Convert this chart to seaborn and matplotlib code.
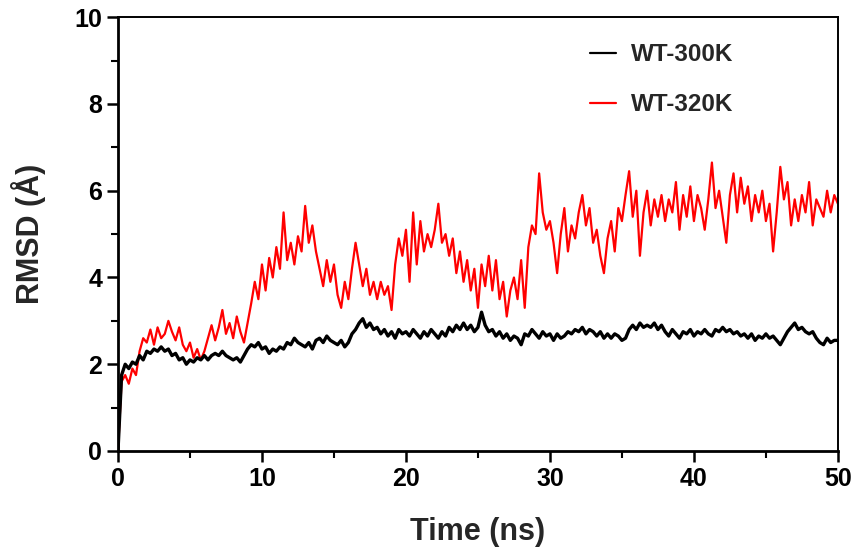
#!/usr/bin/env python3
"""RMSD vs time for WT at 300 K and 320 K."""

import numpy as np
import pandas as pd
import matplotlib
matplotlib.use("Agg")
import matplotlib.pyplot as plt
import seaborn as sns

# time grid, 0.25 ns steps (0 .. 50 ns)
time_ns = np.arange(0, 50.001, 0.25)

# RMSD (A), four samples per ns
rmsd_300k = [
    0.0, 1.75, 2.0, 1.9,    2.05, 2.0, 2.2, 2.1,    2.3, 2.25, 2.35, 2.3,
    2.4, 2.3, 2.35, 2.2,    2.25, 2.1, 2.15, 2.0,   2.1, 2.05, 2.15, 2.1,
    2.2, 2.1, 2.2, 2.25,    2.2, 2.3, 2.2, 2.15,    2.1, 2.15, 2.05, 2.2,
    2.35, 2.45, 2.4, 2.5,   2.35, 2.4, 2.25, 2.35,  2.3, 2.4, 2.35, 2.5,
    2.45, 2.6, 2.5, 2.45,   2.4, 2.5, 2.35, 2.55,   2.6, 2.5, 2.65, 2.55,
    2.5, 2.45, 2.55, 2.4,   2.5, 2.7, 2.8, 2.95,    3.05, 2.85, 2.95, 2.8,
    2.85, 2.7, 2.8, 2.65,   2.75, 2.6, 2.8, 2.7,    2.75, 2.65, 2.8, 2.7,
    2.6, 2.75, 2.65, 2.8,   2.7, 2.6, 2.75, 2.65,   2.85, 2.75, 2.9, 2.8,
    2.95, 2.8, 2.9, 2.75,   2.85, 3.2, 2.9, 2.75,   2.8, 2.65, 2.75, 2.6,
    2.7, 2.55, 2.65, 2.6,   2.45, 2.7, 2.65, 2.8,   2.7, 2.6, 2.75, 2.65,
    2.7, 2.55, 2.7, 2.6,    2.65, 2.75, 2.7, 2.8,   2.75, 2.85, 2.7, 2.8,
    2.75, 2.65, 2.75, 2.6,  2.7, 2.6, 2.7, 2.65,    2.55, 2.6, 2.8, 2.9,
    2.8, 2.95, 2.85, 2.9,   2.85, 2.95, 2.8, 2.9,   2.75, 2.65, 2.8, 2.7,
    2.6, 2.75, 2.7, 2.8,    2.65, 2.75, 2.7, 2.8,   2.7, 2.65, 2.8, 2.75,
    2.85, 2.75, 2.8, 2.7,   2.75, 2.65, 2.7, 2.6,   2.7, 2.55, 2.65, 2.6,
    2.7, 2.6, 2.65, 2.55,   2.45, 2.6, 2.75, 2.85,  2.95, 2.8, 2.85, 2.75,
    2.7, 2.75, 2.6, 2.5,    2.45, 2.6, 2.5, 2.55,
    2.55,
]

rmsd_320k = [
    0.0, 1.6, 1.75, 1.55,   1.9, 1.75, 2.3, 2.6,    2.5, 2.8, 2.45, 2.85,
    2.6, 2.7, 3.0, 2.75,    2.55, 2.85, 2.45, 2.3,  2.5, 2.15, 2.35, 2.1,
    2.3, 2.6, 2.9, 2.55,    2.85, 3.25, 2.7, 2.95,  2.6, 3.1, 2.75, 2.5,
    2.95, 3.4, 3.9, 3.5,    4.3, 3.7, 4.45, 4.0,    4.7, 4.2, 5.5, 4.4,
    4.8, 4.3, 4.95, 4.6,    5.65, 4.8, 5.2, 4.6,    4.2, 3.8, 4.4, 3.9,
    4.3, 3.6, 3.3, 3.9,     3.5, 4.2, 4.8, 4.3,     3.8, 4.2, 3.6, 3.9,
    3.5, 3.9, 3.6, 3.8,     3.25, 4.3, 4.9, 4.5,    5.1, 3.9, 5.5, 4.3,
    5.3, 4.6, 5.0, 4.7,     5.1, 5.7, 4.8, 5.0,     4.5, 4.9, 4.1, 4.6,
    3.9, 4.4, 3.7, 4.2,     3.3, 4.3, 3.8, 4.5,     3.7, 4.4, 3.5, 3.9,
    3.1, 3.7, 4.0, 3.5,     4.4, 3.3, 4.7, 5.2,     5.0, 6.4, 5.5, 5.1,
    5.3, 4.8, 4.1, 5.0,     5.6, 4.6, 5.2, 4.9,     5.5, 5.9, 5.2, 5.6,
    4.8, 5.1, 4.5, 4.1,     4.9, 5.3, 4.6, 5.6,     5.3, 5.9, 6.45, 5.4,
    6.0, 4.5, 5.5, 6.0,     5.2, 5.8, 5.4, 5.9,     5.3, 5.8, 5.5, 6.2,
    5.1, 5.9, 5.4, 6.1,     5.3, 5.9, 5.6, 5.1,     5.8, 6.65, 5.6, 6.0,
    5.4, 4.8, 5.9, 6.4,     5.5, 6.3, 5.7, 6.1,     5.3, 5.9, 5.5, 6.0,
    5.3, 5.7, 4.6, 5.5,     6.55, 5.8, 6.2, 5.2,    5.8, 5.3, 5.9, 5.5,
    6.2, 5.2, 5.8, 5.6,     5.4, 6.0, 5.5, 5.9,
    5.7,
]

labels = ["WT-300K", "WT-320K"]
colors = {"WT-300K": "#000000", "WT-320K": "#ff0000"}

x_ticks = [0, 10, 20, 30, 40, 50]
y_ticks = [0, 2, 4, 6, 8, 10]


def main():
    df = pd.concat([
        pd.DataFrame({"Time (ns)": time_ns, "RMSD": rmsd_300k, "System": labels[0]}),
        pd.DataFrame({"Time (ns)": time_ns, "RMSD": rmsd_320k, "System": labels[1]}),
    ])

    sns.set_theme(style="ticks")
    plt.rcParams["font.family"] = ["Liberation Sans", "DejaVu Sans"]
    plt.rcParams["font.weight"] = "bold"

    fig = plt.figure(figsize=(8.55, 5.55), dpi=100)
    ax = fig.add_axes([0.138, 0.1874, 0.842, 0.7816])

    # red first so the black trace sits on top, legend re-ordered below
    sns.lineplot(data=df[df["System"] == labels[1]], x="Time (ns)", y="RMSD",
                 color=colors[labels[1]], linewidth=1.6, label=labels[1], ax=ax)
    sns.lineplot(data=df[df["System"] == labels[0]], x="Time (ns)", y="RMSD",
                 color=colors[labels[0]], linewidth=2.4, label=labels[0], ax=ax)

    ax.set_xlim(0, 50)
    ax.set_ylim(0, 10)
    ax.set_xticks(x_ticks)
    ax.set_yticks(y_ticks)
    ax.set_xticks([5, 15, 25, 35, 45], minor=True)
    ax.set_yticks([1, 3, 5, 7, 9], minor=True)
    ax.tick_params(axis="both", which="major", length=8, width=1.8,
                   labelsize=18, color="black", labelcolor="black")
    ax.tick_params(axis="both", which="minor", length=5, width=1.5, color="black")
    for lab in ax.get_xticklabels() + ax.get_yticklabels():
        lab.set_fontweight("bold")

    ax.set_xlabel("Time (ns)", fontsize=22, fontweight="bold", labelpad=19)
    ax.set_ylabel("RMSD (Å)", fontsize=22, fontweight="bold", labelpad=20)

    for side in ["left", "bottom"]:
        ax.spines[side].set_linewidth(2.0)
        ax.spines[side].set_color("black")
    for side in ["top", "right"]:
        ax.spines[side].set_linewidth(1.4)
        ax.spines[side].set_color("black")

    handles, labs = ax.get_legend_handles_labels()
    order = [labs.index(l) for l in labels]
    leg = ax.legend([handles[i] for i in order], [labs[i] for i in order],
                    frameon=False, loc="upper right", bbox_to_anchor=(0.885, 0.99),
                    prop={"size": 17.5, "weight": "bold"}, handlelength=1.1,
                    labelspacing=1.1, handletextpad=0.6)
    for line in leg.get_lines():
        line.set_linewidth(1.6)

    fig.savefig("out.png", dpi=100)
    plt.close(fig)


if __name__ == "__main__":
    main()
